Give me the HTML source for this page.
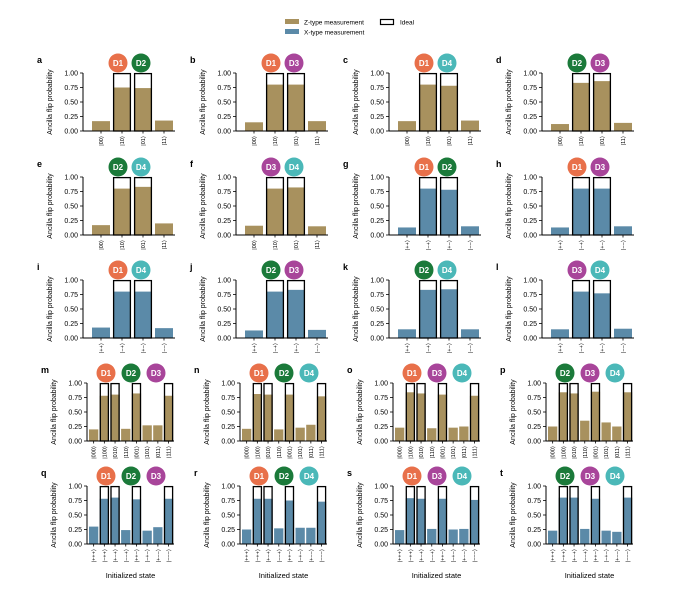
<!DOCTYPE html>
<html><head><meta charset="utf-8"><style>body{margin:0;background:#fff}svg{display:block}text{font-family:"Liberation Sans",Arial,sans-serif}</style></head>
<body>
<svg id="s" width="700" height="612" xmlns="http://www.w3.org/2000/svg">
<rect width="700" height="612" fill="#fff"/>
<rect x="285" y="19" width="14" height="5" fill="#a8915e"/>
<text x="304" y="24.5" font-size="6.5">Z-type measurement</text>
<rect x="285" y="29" width="14" height="5" fill="#5b8aa8"/>
<text x="304" y="34.5" font-size="6.5">X-type measurement</text>
<rect x="380.5" y="19.5" width="13" height="5" fill="none" stroke="#000" stroke-width="1.2"/>
<text x="400" y="24.5" font-size="6.5">Ideal</text>
</svg>
<script>
var S=document.getElementById('s');
var C={D1:'#e8704a',D2:'#1b7a3a',D3:'#a8459a',D4:'#4bb8b8'};
var G='#a8915e',B='#5b8aa8';
var P=[
['a','Z',['D1','D2'],[.17,.75,.74,.18]],
['b','Z',['D1','D3'],[.15,.80,.80,.17]],
['c','Z',['D1','D4'],[.17,.80,.78,.18]],
['d','Z',['D2','D3'],[.12,.83,.86,.14]],
['e','Z',['D2','D4'],[.17,.80,.83,.20]],
['f','Z',['D3','D4'],[.16,.80,.82,.15]],
['g','X',['D1','D2'],[.13,.80,.78,.15]],
['h','X',['D1','D3'],[.13,.80,.80,.15]],
['i','X',['D1','D4'],[.18,.80,.80,.17]],
['j','X',['D2','D3'],[.13,.80,.83,.14]],
['k','X',['D2','D4'],[.15,.83,.84,.15]],
['l','X',['D3','D4'],[.15,.80,.77,.16]],
['m','Z',['D1','D2','D3'],[.20,.78,.80,.21,.82,.27,.27,.78]],
['n','Z',['D1','D2','D4'],[.21,.81,.80,.20,.80,.23,.28,.77]],
['o','Z',['D1','D3','D4'],[.23,.84,.82,.22,.80,.23,.25,.78]],
['p','Z',['D2','D3','D4'],[.25,.84,.82,.35,.85,.32,.25,.84]],
['q','X',['D1','D2','D3'],[.30,.78,.80,.24,.77,.23,.29,.78]],
['r','X',['D1','D2','D4'],[.25,.78,.78,.27,.75,.28,.28,.73]],
['s','X',['D1','D3','D4'],[.24,.79,.78,.26,.78,.25,.26,.76]],
['t','X',['D2','D3','D4'],[.23,.80,.80,.26,.78,.23,.21,.80]]];
var Z4=['|00⟩','|10⟩','|01⟩','|11⟩'],X4=['|++⟩','|−+⟩','|+−⟩','|−−⟩'];
var Z8=['|000⟩','|100⟩','|010⟩','|110⟩','|001⟩','|101⟩','|011⟩','|111⟩'];
var X8=['|+++⟩','|−++⟩','|+−+⟩','|−−+⟩','|++−⟩','|−+−⟩','|+−−⟩','|−−−⟩'];
var YB=[131,235,338,441,544],H=58;
var h='';
P.forEach(function(p,i){
 var r=Math.floor(i/4),c=i%4,n=p[3].length,ax,pw,x0,pitch,bw,ideal,cx;
 var y0=YB[r],y1=y0-H;
 if(n==4){ax=83+153*c;pw=92;x0=ax+9;pitch=21;bw=18;ideal=[1,2];cx=[35,58];}
 else{ax=87+153*c;pw=87;x0=ax+2;pitch=10.7;bw=9.3;ideal=[1,2,4,7];cx=[19,44,69];}
 var col=p[1]=='Z'?G:B;
 var labs=n==4?(p[1]=='Z'?Z4:X4):(p[1]=='Z'?Z8:X8);
 h+='<text x="'+(ax-46)+'" y="'+(y1-10)+'" font-size="9" font-weight="bold">'+p[0]+'</text>';
 h+='<text transform="translate('+(ax-31)+','+(y0-H/2)+') rotate(-90)" text-anchor="middle" font-size="7">Ancilla flip probability</text>';
 for(var k=0;k<5;k++){var yy=y0-H*k/4;
  h+='<line x1="'+(ax-3)+'" x2="'+ax+'" y1="'+yy+'" y2="'+yy+'" stroke="#000" stroke-width="0.8"/>';
  h+='<text x="'+(ax-5)+'" y="'+(yy+2.5)+'" font-size="7" text-anchor="end">'+(k/4).toFixed(2)+'</text>';}
 p[3].forEach(function(v,j){var bx=x0+pitch*j;
  h+='<rect x="'+bx+'" y="'+(y0-H*v)+'" width="'+bw+'" height="'+(H*v)+'" fill="'+col+'"/>';
  if(ideal.indexOf(j)>=0)h+='<rect x="'+(bx+0.6)+'" y="'+(y1+0.6)+'" width="'+(bw-1.2)+'" height="'+(H-0.6)+'" fill="none" stroke="#000" stroke-width="1.3"/>';
  var tx=bx+bw/2;
  h+='<line x1="'+tx+'" x2="'+tx+'" y1="'+y0+'" y2="'+(y0+2.5)+'" stroke="#000" stroke-width="0.8"/>';
  h+='<text transform="translate('+(tx+2)+','+(y0+5)+') rotate(-90)" text-anchor="end" font-size="5.5">'+labs[j]+'</text>';
 });
 h+='<line x1="'+ax+'" x2="'+ax+'" y1="'+y1+'" y2="'+y0+'" stroke="#000" stroke-width="1"/>';
 h+='<line x1="'+ax+'" x2="'+(ax+pw)+'" y1="'+y0+'" y2="'+y0+'" stroke="#000" stroke-width="1"/>';
 p[2].forEach(function(d,j){var x=ax+cx[j];
  h+='<circle cx="'+x+'" cy="'+(y1-10)+'" r="9.5" fill="'+C[d]+'"/>';
  h+='<text x="'+x+'" y="'+(y1-7)+'" font-size="8" font-weight="bold" fill="#fff" text-anchor="middle">'+d+'</text>';});
 if(r==4)h+='<text x="'+(ax+pw/2)+'" y="578" font-size="7.5" text-anchor="middle">Initialized state</text>';
});
S.insertAdjacentHTML('beforeend',h);
</script>
</body></html>
